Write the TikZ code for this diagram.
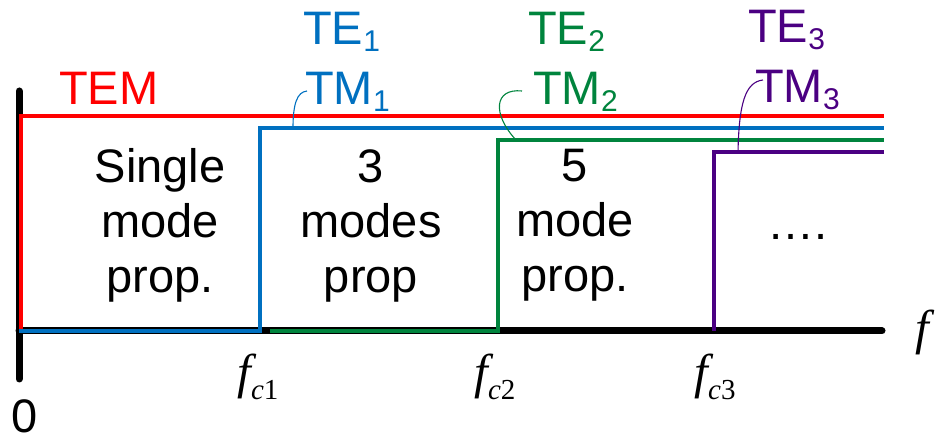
\documentclass[tikz,border=0pt]{standalone}
\usepackage{fontspec}
\setmainfont{Liberation Sans}
\newfontfamily\serifit{Liberation Serif}
\definecolor{modered}{RGB}{255,0,0}
\definecolor{modeblue}{RGB}{0,112,192}
\definecolor{modegreen}{RGB}{0,132,61}
\definecolor{modepurple}{RGB}{75,0,130}
% subscript index for mode names
\newcommand\modeidx[1]{\raisebox{-7pt}{\fontsize{30}{30}\selectfont #1}}
% cut-off frequency symbol f_{c n}
\newcommand\cutoff[1]{{\serifit\itshape f}\raisebox{-11pt}{\fontsize{29}{29}\selectfont{\serifit\itshape c}{\serifit #1}}}
\begin{document}
\begin{tikzpicture}[x=1pt,y=-1pt,
  axis/.style={line width=7pt,line cap=round,black},
  modeline/.style={line width=#1,line join=miter},
  leader/.style={line width=1.1pt},
  big/.style={font=\fontsize{47}{55}\selectfont,inner sep=0pt},
  freq/.style={font=\fontsize{49}{49}\selectfont,inner sep=0pt,anchor=base}]
\useasboundingbox (0,0) rectangle (940,435);

% axes
\coordinate (ytop) at (19,91);
\coordinate (ybot) at (19,379);
\coordinate (origin) at (19,331);
\coordinate (xend) at (882,331);
\draw[axis] (ytop) -- (ybot);
\draw[axis] (origin) -- (xend);

% cut-off steps of each mode group
\coordinate (tem0) at (21,331);   \coordinate (tem1) at (884,116);
\coordinate (m1a) at (19,331);    \coordinate (m1b) at (260,128);  \coordinate (m1c) at (884,128);
\coordinate (m2a) at (270,331);   \coordinate (m2b) at (498,140);  \coordinate (m2c) at (884,140);
\coordinate (m3a) at (714,331);   \coordinate (m3c) at (884,152);
\draw[modeline=4pt,modered] (tem0) |- (tem1);
\draw[modeline=3.5pt,modeblue] (m1a) -| (m1b) -- (m1c);
\draw[modeline=3.2pt,modegreen] (m2a) -| (m2b) -- (m2c);
\draw[modeline=3.2pt,modepurple] (m3a) |- (m3c);

% mode labels
\node[big,text=modered,anchor=base west] (tem) at (59,105) {TEM};
\node[big,text=modeblue,anchor=base west] (te1) at (303,45) {TE\modeidx{1}};
\node[big,text=modeblue,anchor=base west] (tm1) at (305,105) {TM\modeidx{1}};
\node[big,text=modegreen,anchor=base west] (te2) at (528,45) {TE\modeidx{2}};
\node[big,text=modegreen,anchor=base west] (tm2) at (533,105) {TM\modeidx{2}};
\node[big,text=modepurple,anchor=base west] (te3) at (748,43) {TE\modeidx{3}};
\node[big,text=modepurple,anchor=base west] (tm3) at (755,103) {TM\modeidx{3}};

% leader lines from labels to their lines
\coordinate (l1) at (293,128);
\coordinate (l2) at (516,140);
\coordinate (l3) at (738,152);
\coordinate (e1) at (307,91);
\coordinate (e2) at (522,91);
\coordinate (e3) at (763,80);
\draw[leader,modeblue] (l1) .. controls (293,104) and (297,92) .. (e1);
\draw[leader,modegreen] (l2) .. controls (492,114) and (494,88) .. (e2);
\draw[leader,modepurple] (l3) .. controls (739,104) and (745,82) .. (e3);

% region descriptions
\node[big,align=center,anchor=north] (r1) at (160,148) {Single\\mode\\prop.};
\node[big,align=center,anchor=north] (r2) at (371,149) {3\\modes\\prop};
\node[big,align=center,anchor=north] (r3) at (575,149) {5\\mode\\prop.};
\node[big,anchor=base] (r4) at (798,240) {….};

% axis labels
\node[freq] (fc1) at (258,389) {\cutoff{1}};
\node[freq] (fc2) at (495,389) {\cutoff{2}};
\node[freq] (fc3) at (715,389) {\cutoff{3}};
\node[freq,anchor=base west] (f) at (915,345) {\serifit\itshape f};
\node[big,anchor=base] (zero) at (25,432) {0};
\end{tikzpicture}
\end{document}
